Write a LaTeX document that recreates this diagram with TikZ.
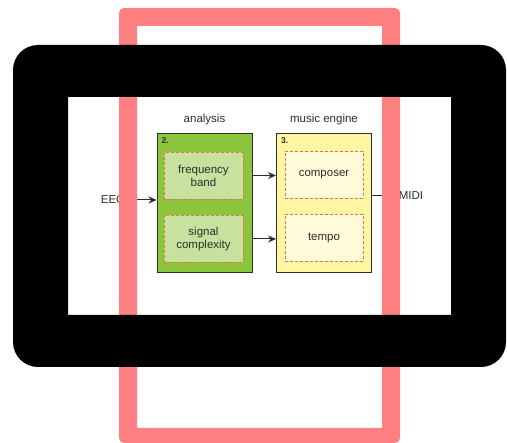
\documentclass[tikz,border=0pt]{standalone}
\usepackage{fontspec}
\setmainfont{Liberation Sans}
\usepackage{xcolor}
\usetikzlibrary{positioning,arrows.meta,calc}
\definecolor{frink}{HTML}{2E2E2E}
\definecolor{frgreen}{HTML}{8AC53D}
\definecolor{frgreenlt}{HTML}{C6E29E}
\definecolor{fryellow}{HTML}{FFF6A3}
\definecolor{fryellowlt}{HTML}{FFFAD8}
\definecolor{frdash}{HTML}{E8704A}
\definecolor{frpink}{HTML}{FF8080}

\begin{document}
\begin{tikzpicture}[
  x=1pt, y=-1pt,
  font=\fontsize{11.5}{13}\selectfont, text=frink,
  stage/.style={draw=frink, line width=1pt, minimum width=95pt,
    minimum height=139pt, inner sep=0pt},
  part/.style={draw=frdash, densely dashed, line width=0.5pt, minimum width=79pt,
    minimum height=47pt, align=center, inner sep=1pt},
  tag/.style={font=\fontsize{8.5}{9}\selectfont\bfseries, inner sep=0pt, anchor=north west},
  flow/.style={-{Stealth[length=8pt, width=7pt]}, line width=1pt, frink},
  ]
  \useasboundingbox (0,0) rectangle (507,443);
  \fill[white] (0,0) rectangle (507,443);

  % the two stages
  \node[stage, fill=frgreen] (ana) at (204.5,203.5) {};
  \node[stage, fill=fryellow] (eng) at (324,203.5) {};
  \node[above=5pt of ana] (anal) {analysis};
  \node[above=5pt of eng] (engl) {music engine};
  \node[tag] (anan) at ($(ana.north west)+(5,4)$) {2.};
  \node[tag] (engn) at ($(eng.north west)+(5,4)$) {3.};

  \node[part, fill=frgreenlt] (freq) at (203.5,175.5) {frequency\\band};
  \node[part, fill=frgreenlt, below=16pt of freq] (sig) {signal\\complexity};
  \node[part, fill=fryellowlt, minimum width=78pt] (comp) at (324,174.5) {composer};
  \node[part, fill=fryellowlt, minimum width=78pt, below=16pt of comp] (tmp) {tempo};

  \node (eeg) at (113,200) {EEG};
  \node (midi) at (411,196) {MIDI};

  \draw[flow] (eeg.east) -- (ana.west |- eeg);
  \draw[flow] (ana.east |- freq) -- (eng.west |- freq);
  \draw[flow] (ana.east |- sig) -- (eng.west |- sig);
  \draw[line width=1pt, frink] (eng.east |- midi) -- (midi.west);

  % frames over it
  \fill[frpink, even odd rule, rounded corners=5pt] (119,8) rectangle (400,443)
    [sharp corners] (137,26) rectangle (382,428);
  \fill[black, even odd rule, rounded corners=25pt] (13,45) rectangle (506,367)
    [sharp corners] (68,97) rectangle (451,315);
\end{tikzpicture}
\end{document}
